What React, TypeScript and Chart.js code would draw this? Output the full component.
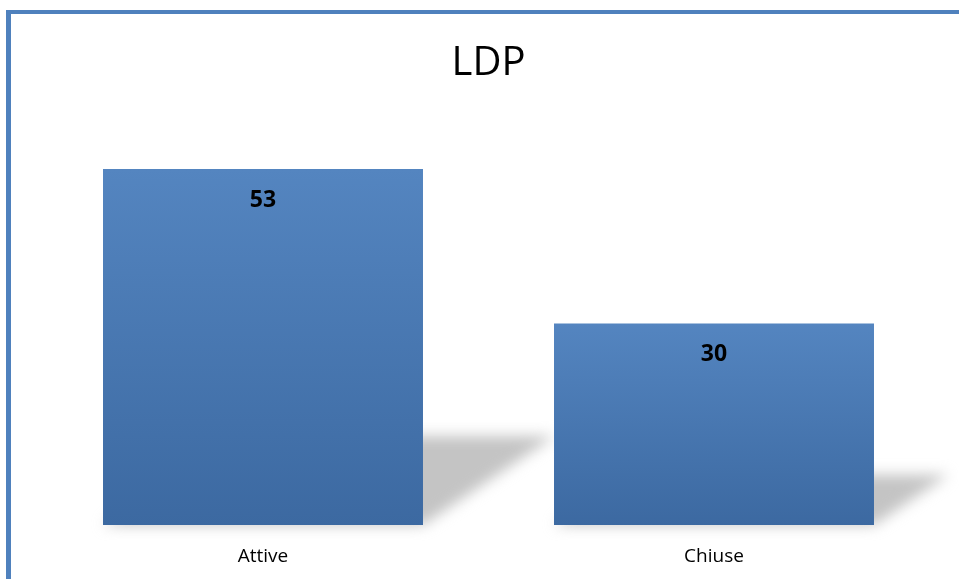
import React, { useEffect, useRef } from "react";
import { Chart, registerables } from "chart.js";

Chart.register(...registerables);

const categories = ["Attive", "Chiuse"];
const values = [53, 30];
const chartTitle = "LDP";
const yMax = 60;

const FONT = "'Open Sans', 'Noto Sans', sans-serif";

// White page with the blue frame on the left and top edges
const framePlugin = {
  id: "frame",
  beforeDraw(chart: any) {
    const { ctx, width, height } = chart;
    ctx.save();
    ctx.fillStyle = "#ffffff";
    ctx.fillRect(0, 0, width, height);
    ctx.fillStyle = "#4f81bd";
    ctx.fillRect(6, 10, 5, height - 10);
    ctx.fillRect(6, 10, width - 6, 4);
    ctx.restore();
  },
};

// Soft floor shadow cast by each bar toward the upper right
const shadowPlugin = {
  id: "barShadow",
  beforeDatasetsDraw(chart: any) {
    const { ctx } = chart;
    const meta = chart.getDatasetMeta(0);
    ctx.save();
    ctx.filter = "blur(7px)";
    ctx.fillStyle = "rgba(190,190,190,0.9)";
    meta.data.forEach((bar: any) => {
      const x0 = bar.x - bar.width / 2;
      const x1 = bar.x + bar.width / 2;
      const bottom = bar.base;
      const h = bottom - bar.y;
      const sx = 0.37 * h;
      const sy = 0.25 * h;
      ctx.beginPath();
      ctx.moveTo(x0, bottom);
      ctx.lineTo(x1, bottom);
      ctx.lineTo(x1 + sx, bottom - sy);
      ctx.lineTo(x0 + sx, bottom - sy);
      ctx.closePath();
      ctx.fill();
    });
    ctx.restore();
  },
};

// Bold value written near the top inside each bar
const valueLabelPlugin = {
  id: "valueLabels",
  afterDatasetsDraw(chart: any) {
    const { ctx } = chart;
    const meta = chart.getDatasetMeta(0);
    ctx.save();
    ctx.font = `bold 23px ${FONT}`;
    ctx.fillStyle = "#000000";
    ctx.textAlign = "center";
    ctx.textBaseline = "middle";
    meta.data.forEach((bar: any, i: number) => {
      ctx.fillText(String(values[i]), bar.x, bar.y + 31);
    });
    ctx.restore();
  },
};

function barFill(context: any) {
  const chart = context.chart;
  const yScale = chart.scales?.y;
  if (!chart.chartArea || !yScale) return "#4a7ab5";
  const v = values[context.dataIndex] ?? 0;
  const top = yScale.getPixelForValue(v);
  const bottom = yScale.getPixelForValue(0);
  const g = chart.ctx.createLinearGradient(0, top, 0, bottom);
  g.addColorStop(0, "#5485c0");
  g.addColorStop(1, "#3c69a1");
  return g;
}

export default function App() {
  const canvasRef = useRef<HTMLCanvasElement | null>(null);

  useEffect(() => {
    if (!canvasRef.current) return;
    const chart = new Chart(canvasRef.current, {
      type: "bar",
      data: {
        labels: categories,
        datasets: [
          {
            data: values,
            backgroundColor: barFill,
            borderWidth: 0,
            barPercentage: 1,
            categoryPercentage: 0.7095,
          },
        ],
      },
      options: {
        responsive: false,
        animation: false,
        events: [],
        layout: { padding: { left: 37.5, right: 19.5, top: 0, bottom: 0 } },
        plugins: {
          legend: { display: false },
          tooltip: { enabled: false },
          title: {
            display: true,
            text: chartTitle,
            color: "#000000",
            font: { family: FONT, size: 40, weight: "normal", lineHeight: 1.2 },
            padding: { top: 40, bottom: 34 },
          },
        },
        scales: {
          y: { display: false, min: 0, max: yMax },
          x: {
            grid: { display: false },
            border: { display: false },
            afterFit(scale: any) {
              scale.height = 54;
            },
            ticks: {
              color: "#000000",
              padding: 12,
              font: { family: FONT, size: 19 },
            },
          },
        },
      },
      plugins: [framePlugin, shadowPlugin, valueLabelPlugin],
    });
    return () => chart.destroy();
  }, []);

  return (
    <div style={{ position: "absolute", left: 0, top: 0, width: 959, height: 579 }}>
      <canvas ref={canvasRef} width={959} height={579} />
    </div>
  );
}
